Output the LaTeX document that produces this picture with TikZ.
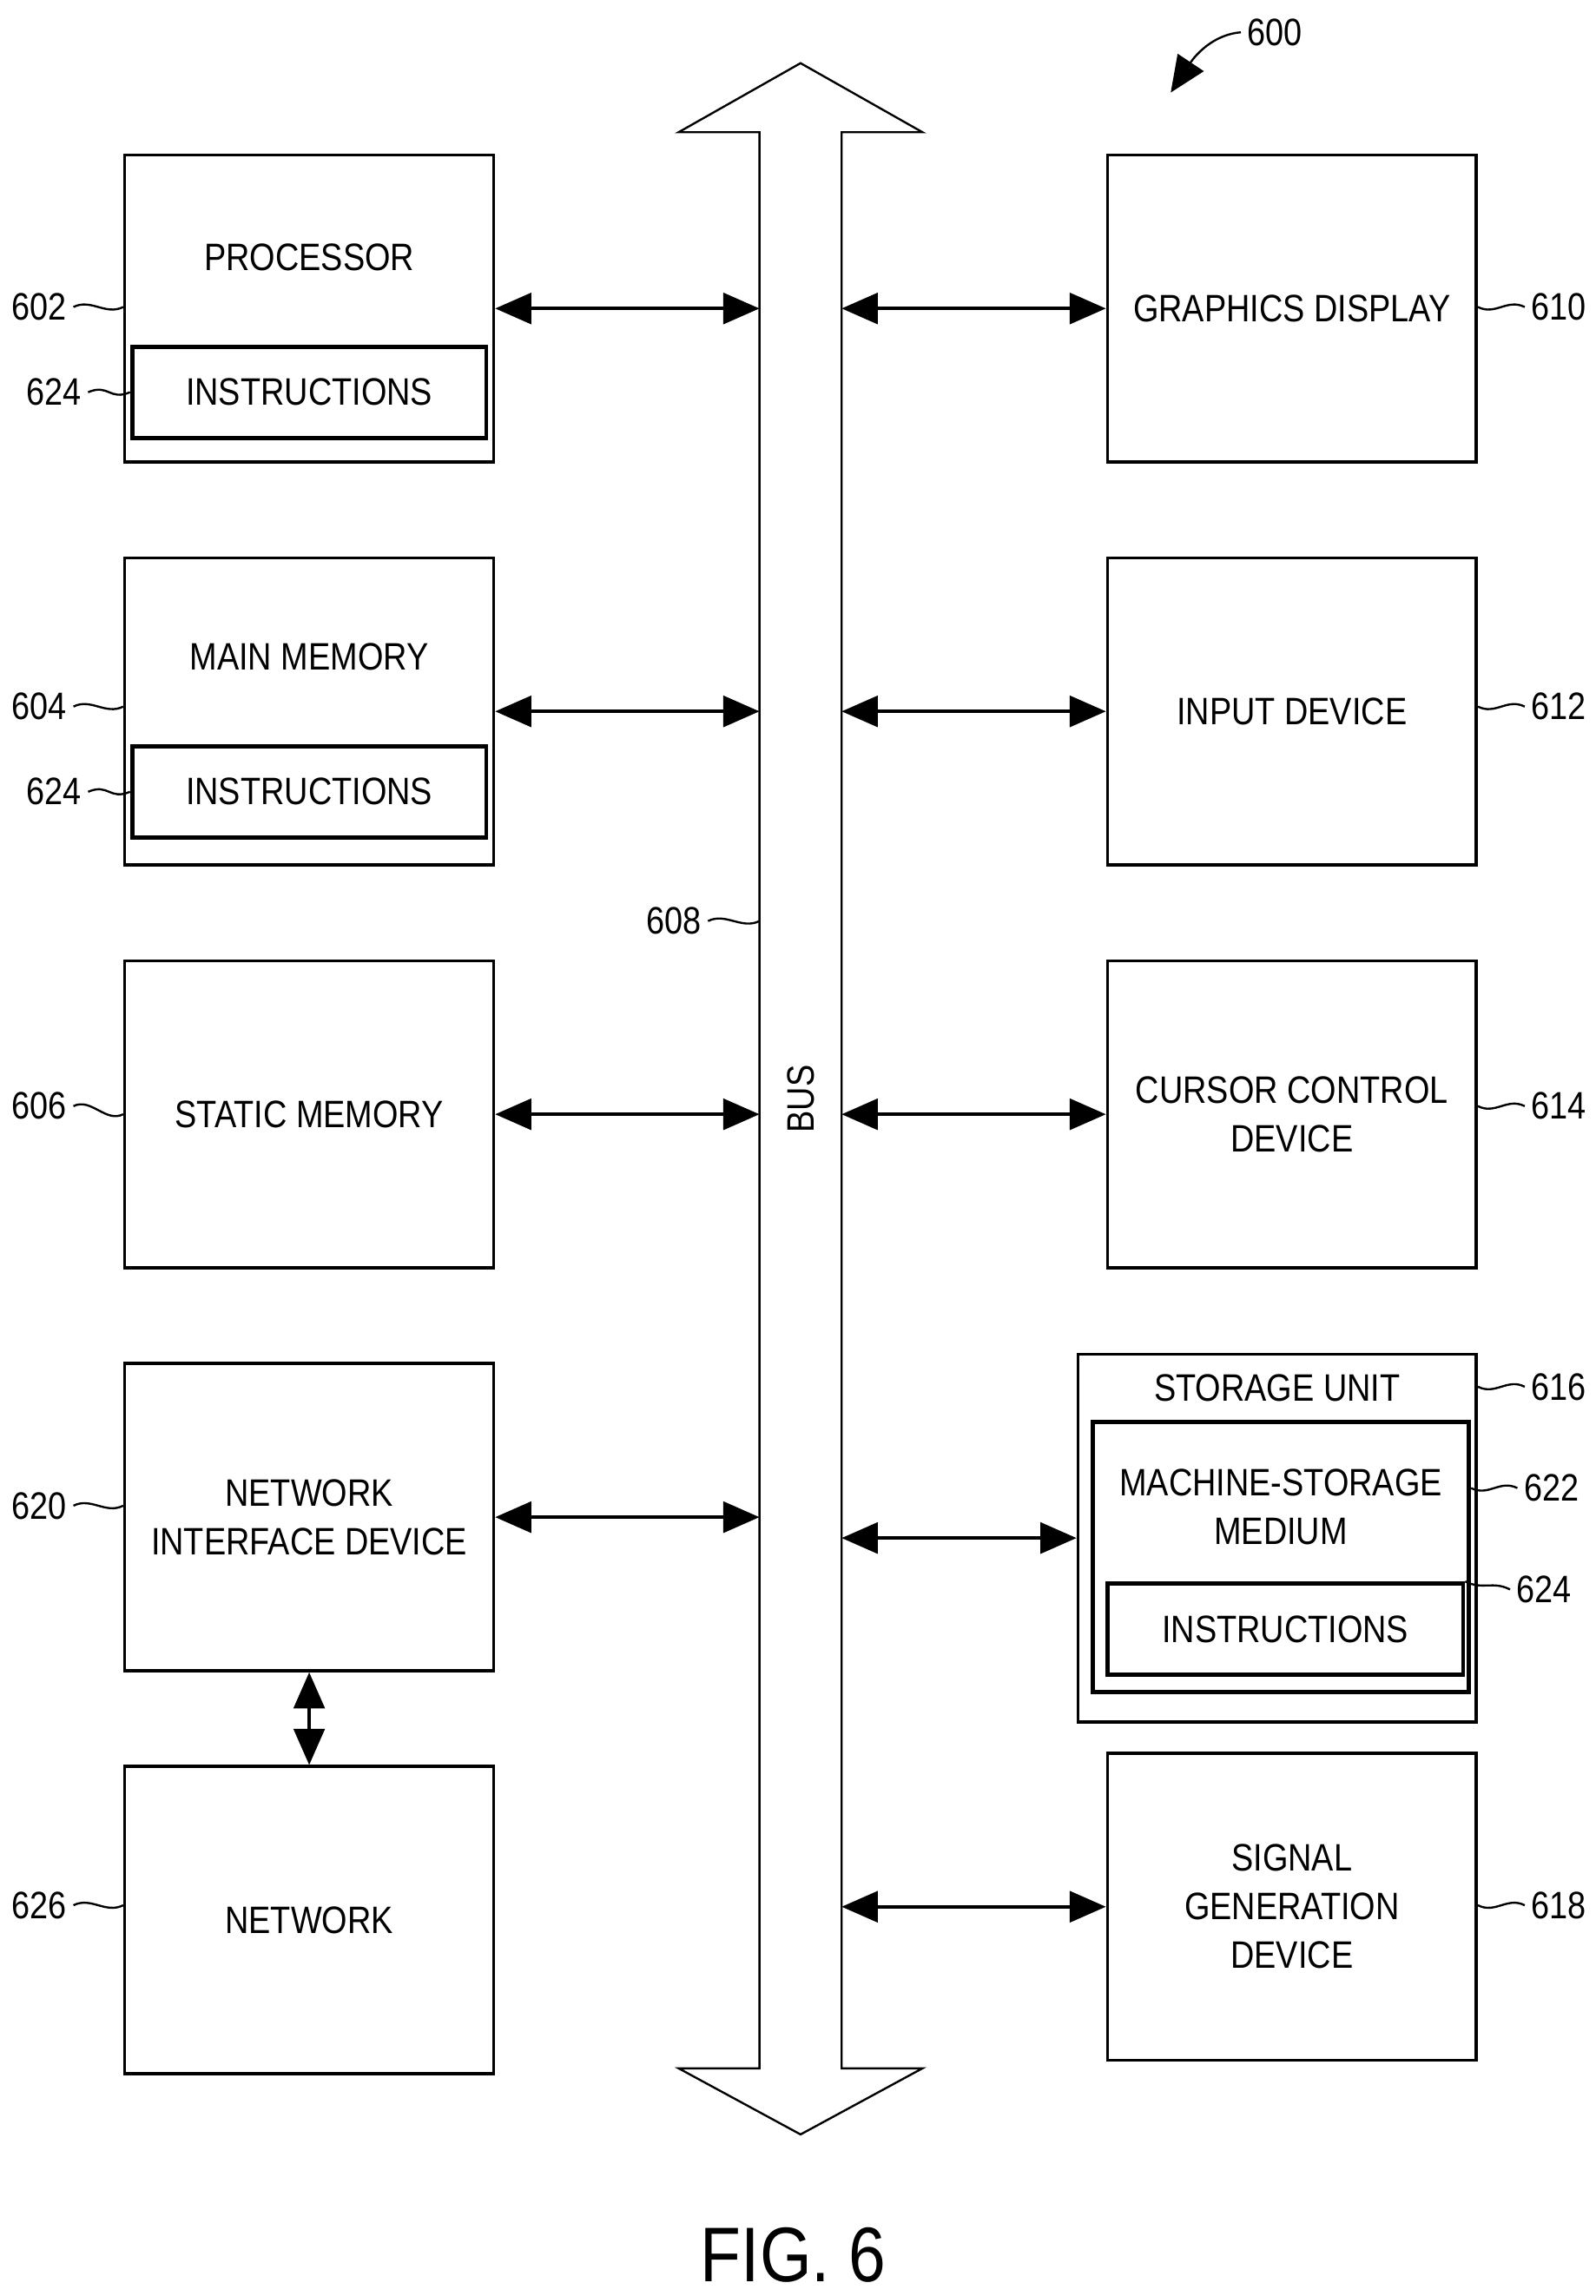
\documentclass[tikz,border=0pt]{standalone}
\usepackage{fontspec}
\setmainfont{Liberation Sans}[FakeStretch=0.86]
\usetikzlibrary{arrows.meta,positioning}

\begin{document}
\begin{tikzpicture}[x=0.01cm,y=-0.01cm,<->,>={Triangle[length=7pt,width=6pt]},semithick,
    font=\fontsize{7.4}{9.4}\selectfont]

    \tikzset{box/.style={draw,-,minimum width=2.51cm,minimum height=2.09cm,align=center,inner sep=0pt},
             inner/.style={draw,-,thick,minimum height=0.62cm,align=center,inner sep=0pt},
             ref/.style={inner sep=1pt},
             lead/.style={-,thin}}

    \useasboundingbox (0,0) rectangle (1086,1563);

    % bus
    \draw[-,thin] (517,90) -- (462,90) -- (545,43) -- (628,90) -- (573,90)
        -- (573,1408) -- (628,1408) -- (545,1453) -- (462,1408) -- (517,1408) -- cycle;
    \node[rotate=90] (bus) at (545,748) {BUS};
    \coordinate (busL) at (517,0);
    \coordinate (busR) at (573,0);

    % left column
    \node[box] (proc) at (210.5,210) {};
    \node (proct) at (210.5,175) {PROCESSOR};
    \node[inner,minimum width=2.41cm] (ins1) at (210.5,267) {INSTRUCTIONS};
    \node[box] (mem) [below=0.63cm of proc] {};
    \node (memt) at (210.5,447) {MAIN MEMORY};
    \node[inner,minimum width=2.41cm] (ins2) at (210.5,539) {INSTRUCTIONS};
    \node[box] (smem) [below=0.63cm of mem] {STATIC MEMORY};
    \node[box] (nid) [below=0.63cm of smem] {NETWORK\\INTERFACE DEVICE};
    \node[box] (net) [below=0.63cm of nid] {NETWORK};

    % right column
    \node[box] (gfx) at (879.5,210) {GRAPHICS DISPLAY};
    \node[box] (inp) [below=0.63cm of gfx] {INPUT DEVICE};
    \node[box] (cur) [below=0.63cm of inp] {CURSOR CONTROL\\DEVICE};
    \node[draw,-,minimum width=2.71cm,minimum height=2.50cm,inner sep=0pt] (stor) at (869.5,1047) {};
    \node (stort) at (869.5,945) {STORAGE UNIT};
    \node[draw,-,thick,minimum width=2.56cm,minimum height=1.84cm,inner sep=0pt] (msm) at (872,1060) {};
    \node[align=center] (msmt) at (872,1026) {MACHINE-STORAGE\\MEDIUM};
    \node[inner,minimum width=2.42cm] (ins3) at (875,1109) {INSTRUCTIONS};
    \node[box] (sig) at (879.5,1298) {SIGNAL\\GENERATION\\DEVICE};

    % connections
    \draw (proc.east) -- (proc.east -| busL);
    \draw (mem.east) -- (mem.east -| busL);
    \draw (smem.east) -- (smem.east -| busL);
    \draw (nid.east) -- (nid.east -| busL);
    \draw (nid.south) -- (net.north);
    \draw (gfx.west -| busR) -- (gfx.west);
    \draw (inp.west -| busR) -- (inp.west);
    \draw (cur.west -| busR) -- (cur.west);
    \draw (stor.west -| busR) -- (stor.west);
    \draw (sig.west -| busR) -- (sig.west);

    % reference numerals
    \node[ref,anchor=east] (r602) at (50,209) {602};
    \node[ref,anchor=east] (r624a) at (60,267) {624};
    \node[ref,anchor=east] (r604) at (50,481) {604};
    \node[ref,anchor=east] (r624b) at (60,539) {624};
    \node[ref,anchor=east] (r606) at (50,753) {606};
    \node[ref,anchor=east] (r620) at (50,1025) {620};
    \node[ref,anchor=east] (r626) at (50,1297) {626};
    \node[ref,anchor=east] (r608) at (482,627) {608};
    \node[ref,anchor=west] (r610) at (1038,209) {610};
    \node[ref,anchor=west] (r612) at (1038,481) {612};
    \node[ref,anchor=west] (r614) at (1038,753) {614};
    \node[ref,anchor=west] (r616) at (1038,944) {616};
    \node[ref,anchor=west] (r622) at (1033,1013) {622};
    \node[ref,anchor=west] (r624c) at (1028,1082) {624};
    \node[ref,anchor=west] (r618) at (1038,1297) {618};
    \node[ref] (r600) at (868,22) {600};

    \draw[lead] (r602.east) .. controls +(12,-6) and +(-12,6) .. (proc.west |- r602);
    \draw[lead] (r624a.east) .. controls +(14,-6) and +(-14,6) .. (ins1.west);
    \draw[lead] (r604.east) .. controls +(12,-6) and +(-12,6) .. (mem.west |- r604);
    \draw[lead] (r624b.east) .. controls +(14,-6) and +(-14,6) .. (ins2.west);
    \draw[lead] (r606.east) .. controls +(12,-6) and +(-12,6) .. (smem.west);
    \draw[lead] (r620.east) .. controls +(12,-6) and +(-12,6) .. (nid.west |- r620);
    \draw[lead] (r626.east) .. controls +(12,-6) and +(-12,6) .. (net.west |- r626);
    \draw[lead] (r608.east) .. controls +(12,-6) and +(-12,6) .. (busL |- r608);
    \draw[lead] (gfx.east |- r610) .. controls +(12,6) and +(-12,-6) .. (r610.west);
    \draw[lead] (inp.east |- r612) .. controls +(12,6) and +(-12,-6) .. (r612.west);
    \draw[lead] (cur.east |- r614) .. controls +(12,6) and +(-12,-6) .. (r614.west);
    \draw[lead] (stor.east |- r616) .. controls +(12,6) and +(-12,-6) .. (r616.west);
    \draw[lead] (msm.east |- r622) .. controls +(12,6) and +(-12,-6) .. (r622.west);
    \draw[lead] (ins3.north east) .. controls +(12,6) and +(-12,-6) .. (r624c.west);
    \draw[lead] (sig.east |- r618) .. controls +(12,6) and +(-12,-6) .. (r618.west);
    \coordinate (p600) at (797,63);
    \draw[-{Triangle[length=7pt,width=6pt]},thin] (r600.west) .. controls +(-25,2) and +(10,-15) .. (p600);

    \node[font=\fontsize{15}{18}\selectfont] (fig) at (540,1535) {FIG. 6};
\end{tikzpicture}
\end{document}
